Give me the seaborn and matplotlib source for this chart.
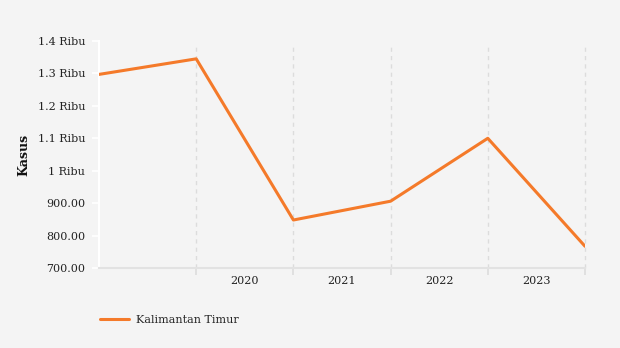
import matplotlib
matplotlib.use("Agg")
import matplotlib.pyplot as plt
import seaborn as sns
import pandas as pd
from matplotlib.ticker import FuncFormatter, FixedLocator

periods = [0, 1, 2, 3, 4, 5]
kasus = [1297, 1345, 848, 906, 1100, 767]
year_labels = ["2020", "2021", "2022", "2023"]
series_name = "Kalimantan Timur"

sns.set_theme(style="white")
plt.rcParams['font.family'] = ['DejaVu Serif']

df = pd.DataFrame({"x": periods, "Kasus": kasus, "series": series_name})

fig = plt.figure(figsize=(6.2, 3.48), dpi=100, facecolor="#f4f4f4")
ax = fig.add_axes([99/620, 1-268/348, (585-99)/620, (268-41)/348])
ax.set_facecolor("#f4f4f4")

sns.lineplot(data=df, x="x", y="Kasus", hue="series", palette=["#f47a2a"],
             linewidth=2.2, ax=ax, legend=True, zorder=3)

ax.set_xlim(0, 5)
ax.set_ylim(700, 1400)
ax.set_yticks([700, 800, 900, 1000, 1100, 1200, 1300, 1400])

def fmt(v, pos):
    if v >= 1000:
        return f"{v/1000:g} Ribu"
    return f"{v:.2f}"
ax.yaxis.set_major_formatter(FuncFormatter(fmt))

ax.xaxis.set_major_locator(FixedLocator([1, 2, 3, 4, 5]))
ax.xaxis.set_major_formatter(FuncFormatter(lambda v, p: ""))
ax.xaxis.set_minor_locator(FixedLocator([1.5, 2.5, 3.5, 4.5]))
ax.set_xticklabels(year_labels, minor=True)
ax.tick_params(axis="x", which="both", bottom=True)
ax.tick_params(axis="x", which="minor", length=0, pad=6, labelsize=8, labelcolor="#222222")
ax.tick_params(axis="x", which="major", length=5, width=1.2, color="#dcdcdc", direction="out")
ax.tick_params(axis="y", left=True, length=5, width=1.2, color="white", labelsize=8,
               labelcolor="#222222", pad=5)

for xv in [1, 2, 3, 4, 5]:
    ax.axvline(xv, ymax=0.985, color="#dcdcdc", linestyle=(0, (3, 3)), linewidth=1,
               zorder=0, clip_on=False)

for s in ["top", "right"]:
    ax.spines[s].set_visible(False)
ax.spines["left"].set_color("white")
ax.spines["left"].set_linewidth(1.5)
ax.spines["bottom"].set_color("#e2e2e2")
ax.spines["bottom"].set_linewidth(1.5)

ax.set_xlabel("")
ax.set_ylabel("Kasus", fontsize=9, fontweight="bold", color="#111111", labelpad=5)

leg = ax.get_legend()
handles, labels = ax.get_legend_handles_labels()
leg.remove()
fig.legend(handles, labels, loc="center left", bbox_to_anchor=(90/620, 1-320/348),
           frameon=False, fontsize=8, handlelength=2.6, handletextpad=0.6)

fig.savefig("out.png", dpi=100, facecolor="#f4f4f4")
